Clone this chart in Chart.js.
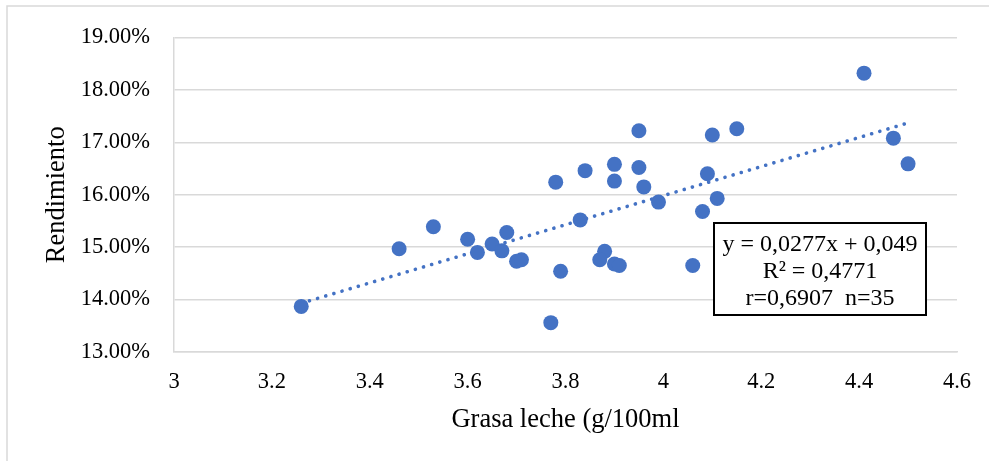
<!DOCTYPE html>
<html>
<head>
<meta charset="utf-8">
<script src="https://cdn.jsdelivr.net/npm/chart.js@4"></script>
<style>
  html, body { margin: 0; padding: 0; background: #fff; }
  #wrap { width: 989px; height: 461px; }
</style>
</head>
<body>
<div id="wrap"><canvas id="grasaChart" width="989" height="461"></canvas></div>
<script>
// milk fat (x) vs yield in % (y)
const grasa = [3.26, 3.46, 3.53, 3.60, 3.62, 3.65, 3.67, 3.68, 3.70, 3.71, 3.78, 3.79, 3.77,
  3.84, 3.83, 3.90, 3.90, 3.88, 3.87, 3.90, 3.91, 3.95, 3.95, 3.96, 3.99,
  4.06, 4.08, 4.09, 4.10, 4.11, 4.15, 4.41, 4.47, 4.50];
const rendimiento = [13.87, 14.97, 15.39, 15.15, 14.90, 15.06, 14.93, 15.28, 14.73, 14.76, 16.24, 14.54, 13.56,
  16.46, 15.52, 16.58, 16.26, 14.92, 14.76, 14.68, 14.65, 17.22, 16.52, 16.15, 15.86,
  14.65, 15.68, 16.40, 17.14, 15.93, 17.26, 18.32, 17.08, 16.59];

// linear trend ends (y = 0,0277x + 0,049)
const trendX = [3.26, 4.50];
const trendY = [13.93, 17.37];

const yTicks = [13, 14, 15, 16, 17, 18, 19];
const xTicks = [3, 3.2, 3.4, 3.6, 3.8, 4, 4.2, 4.4, 4.6];

const boxLines = ['y = 0,0277x + 0,049', 'R\u00b2 = 0,4771', 'r=0,6907  n=35'];

const serif = "'Liberation Serif', 'Times New Roman', serif";
const blue = '#4472C4';
const grey = '#d9d9d9';

const points = grasa.map((g, i) => ({ x: g, y: rendimiento[i] }));
const trend = trendX.map((t, i) => ({ x: t, y: trendY[i] }));

// outer frame + equation box
const extras = {
  id: 'extras',
  beforeDraw(chart) {
    const c = chart.ctx;
    c.save();
    c.fillStyle = '#fff';
    c.fillRect(0, 0, chart.width, chart.height);
    c.strokeStyle = grey;
    c.lineWidth = 1.5;
    c.strokeRect(7, 6, 1100, 600);
    c.restore();
  },
  afterDraw(chart) {
    const c = chart.ctx;
    c.save();
    const bx = 714, by = 223, bw = 212, bh = 92;
    c.fillStyle = '#fff';
    c.fillRect(bx, by, bw, bh);
    c.strokeStyle = '#000';
    c.lineWidth = 2;
    c.strokeRect(bx, by, bw, bh);
    c.fillStyle = '#000';
    c.font = '24px ' + serif;
    c.textAlign = 'center';
    c.textBaseline = 'alphabetic';
    boxLines.forEach((t, i) => {
      c.fillText(t, bx + bw / 2, by + 28 + i * 27);
    });
    c.restore();
  }
};

new Chart(document.getElementById('grasaChart').getContext('2d'), {
  type: 'scatter',
  data: {
    datasets: [{
      label: 'Rendimiento',
      data: points,
      backgroundColor: blue,
      borderWidth: 0,
      pointRadius: 7.5,
      pointHoverRadius: 7.5,
      order: 1
    }, {
      label: 'Lineal',
      type: 'line',
      data: trend,
      borderColor: blue,
      borderWidth: 3.6,
      borderDash: [0.1, 8.4],
      borderCapStyle: 'round',
      pointRadius: 0,
      fill: false,
      order: 2
    }]
  },
  options: {
    responsive: false,
    animation: false,
    layout: { padding: { top: 34, right: 32, left: 0, bottom: 0 } },
    plugins: {
      legend: { display: false },
      tooltip: { enabled: false }
    },
    scales: {
      x: {
        type: 'linear',
        min: 3,
        max: 4.6,
        afterBuildTicks: s => { s.ticks = xTicks.map(v => ({ value: v })); },
        afterFit: s => { s.height = 109; },
        ticks: {
          color: '#000',
          font: { family: serif, size: 22.5 },
          padding: 17,
          maxRotation: 0,
          callback: v => String(Number(v.toFixed(1)))
        },
        grid: { display: false, drawTicks: false },
        border: { display: true, color: grey, width: 1.5 },
        title: {
          display: true,
          text: 'Grasa leche (g/100ml',
          color: '#000',
          font: { family: serif, size: 26.5 },
          padding: { top: 0, bottom: 25 }
        }
      },
      y: {
        type: 'linear',
        min: 13,
        max: 19,
        afterBuildTicks: s => { s.ticks = yTicks.map(v => ({ value: v })); },
        afterFit: s => { s.width = 174; },
        ticks: {
          color: '#000',
          font: { family: serif, size: 22.5 },
          padding: 24,
          callback: v => v.toFixed(2) + '%'
        },
        grid: { color: grey, lineWidth: 1.5, drawTicks: false },
        border: { display: true, color: grey, width: 1.5 },
        title: {
          display: true,
          text: 'Rendimiento',
          color: '#000',
          font: { family: serif, size: 26.5 },
          padding: { top: 41, bottom: 0 }
        }
      }
    }
  },
  plugins: [extras]
});
</script>
</body>
</html>
